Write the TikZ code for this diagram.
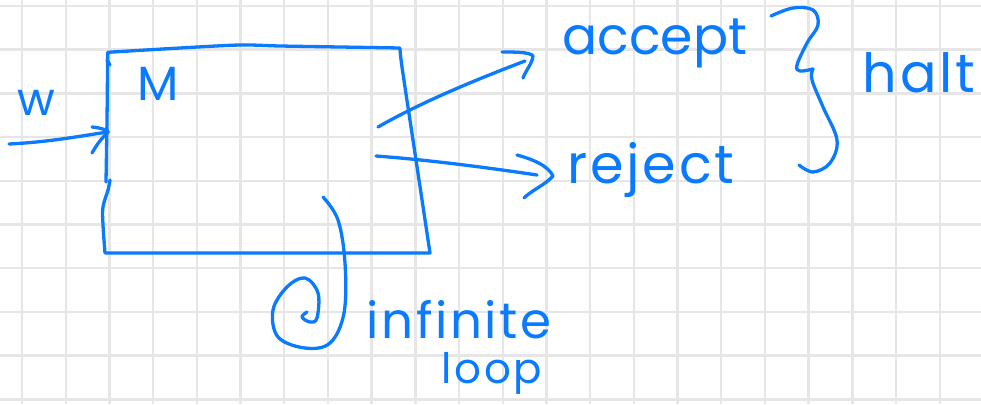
\documentclass[tikz,border=0pt]{standalone}
\usepackage{fontspec}
\setmainfont{Poppins}
\definecolor{ink}{HTML}{0A7AFF}
\definecolor{gridc}{HTML}{E6E6E6}
\begin{document}
\begin{tikzpicture}[x=1pt,y=-1pt,
  gridline/.style={draw=gridc,line width=2.4pt},
  pen/.style={draw=ink,line width=3.3pt,line cap=round,line join=round},
  hand/.style={text=ink,inner sep=0pt,anchor=base}]
\useasboundingbox[fill=white] (0,0) rectangle (981,404);
% grid
\foreach \i in {0,...,21} \draw[gridline] ({22+43.7*\i},0) -- ({22+43.7*\i},404);
\foreach \j in {0,...,9} \draw[gridline] (0,{6+43.7*\j}) -- (981,{6+43.7*\j});
% machine box
\draw[pen] plot[smooth,tension=0.4] coordinates {(106,182) (107,120) (107.7,52.3)}
  -- plot[smooth,tension=0.5] coordinates {(107.7,52.3) (180,48) (240,45) (280,46) (340,47) (400,48)}
  -- plot[smooth,tension=0.5] coordinates {(400,48) (402,67) (416,160) (430,253)}
  -- (105,253) -- plot[smooth,tension=0.6] coordinates {(105,253) (103,225) (103,207) (108,190) (110,180)};
\draw[pen] (107,60) -- (110,65);
% input
\coordinate (inS) at (9,144);
\coordinate (inT) at (108,132);
\draw[pen] (inS) .. controls (50,142) and (80,136) .. (inT);
\draw[pen] (92,127) .. controls (102,128) and (106,130) .. (inT) .. controls (100,140) and (96,146) .. (92,153);
\node[hand,font=\fontsize{46}{46}\selectfont\addfontfeatures{LetterSpace=4}] (w) at (36,115) {w};
\node[hand,font=\fontsize{48}{48}\selectfont] (M) at (158,100) {M};
% accept arrow
\coordinate (aS) at (378,127);
\coordinate (aT) at (525,61);
\draw[pen] (aS) .. controls (420,103) and (470,82) .. (aT);
\draw[pen] (502,52) .. controls (515,52) and (530,52) .. (533,56) .. controls (532,64) and (526,70) .. (523,78);
% reject arrow
\coordinate (rS) at (376,156);
\coordinate (rT) at (537,175);
\draw[pen] (rS) .. controls (430,160) and (490,168) .. (rT);
\draw[pen] (517,155) .. controls (535,160) and (548,166) .. (553,176) .. controls (545,185) and (532,190) .. (524,198);
\node[hand,font=\fontsize{52}{52}\selectfont] (accept) at (655,54) {accept};
\node[hand,font=\fontsize{54}{54}\selectfont\addfontfeatures{LetterSpace=5}] (reject) at (651,183) {reject};
% brace
\draw[pen] plot[smooth,tension=0.6] coordinates {(771,16) (793,8) (813,10) (818,25) (807,43) (797,65) (800,71) (813,69)};
\draw[pen] plot[smooth,tension=0.6] coordinates {(813,69) (812,80) (823,107) (837,140) (830,163) (813,172) (799,165)};
\node[hand,font=\fontsize{54}{54}\selectfont\addfontfeatures{LetterSpace=5}] (halt) at (919,92) {halt};
% infinite loop spiral
\draw[pen] plot[smooth,tension=0.6] coordinates {(323,197) (338,220) (345,263) (344,313) (330,343) (305,348) (278,337) (273,310) (287,287) (305,278) (318,293) (317,318) (310,322) (302,317) (307,312)};
\node[hand,font=\fontsize{50}{50}\selectfont\addfontfeatures{LetterSpace=5}] (inf) at (459,338) {infinite};
\node[hand,font=\fontsize{42}{42}\selectfont\addfontfeatures{LetterSpace=6}] (loop) at (492,383) {loop};
\end{tikzpicture}
\end{document}
